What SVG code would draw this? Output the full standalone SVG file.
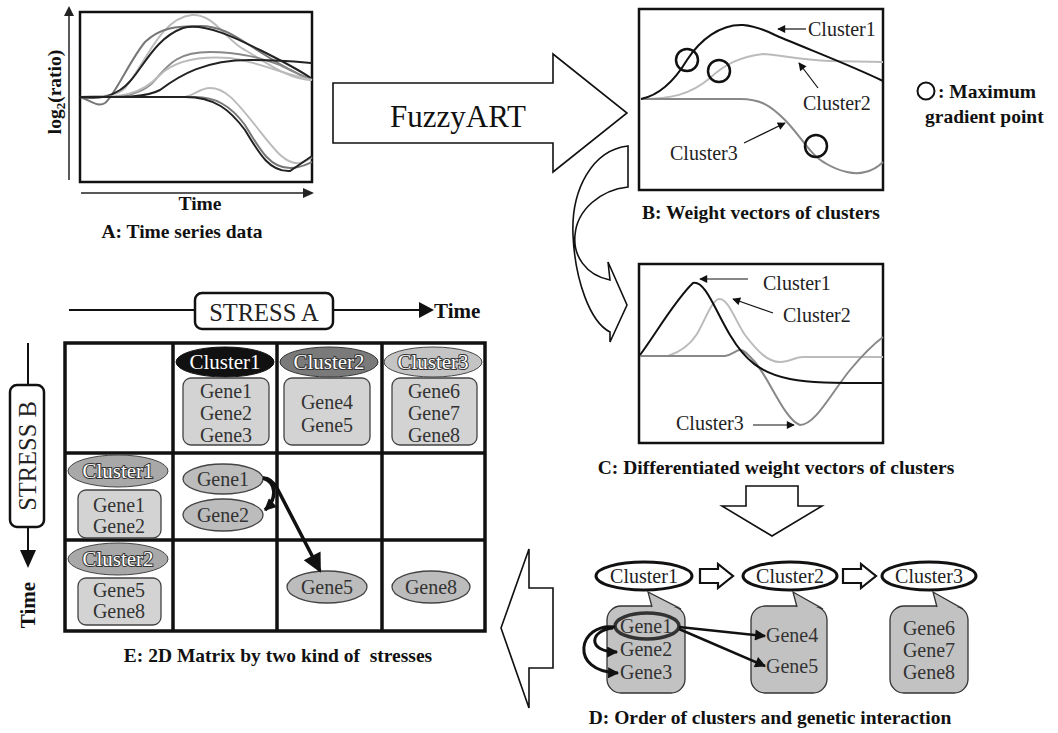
<svg xmlns="http://www.w3.org/2000/svg" width="1058" height="733" viewBox="0 0 1058 733" font-family="'Liberation Serif', 'DejaVu Serif', serif">
<style>
text, tspan{font-family:"Liberation Serif","DejaVu Serif","Times New Roman",serif;}
.b{font-weight:bold;font-size:19.5px;fill:#111;}
.t20{font-size:20px;fill:#222;}
.g{font-size:20px;fill:#333;}
.frame{fill:none;stroke:#111;stroke-width:2.5;}
.blk{fill:#fff;stroke:#111;stroke-width:1.6;}
.cv{fill:none;stroke-width:2;}
.ol{fill:#fff;stroke:#333;stroke-width:2;paint-order:stroke;font-size:21px;}
.gbox{fill:#d3d3d3;stroke:#444;stroke-width:1.3;}
.gell{fill:#bcbcbc;stroke:#444;stroke-width:1.3;}
.dbox{fill:#c2c2c2;stroke:#333;stroke-width:1.3;}
.grid{fill:none;stroke:#111;stroke-width:3.5;}
</style>
<defs>
<marker id="ah" viewBox="0 0 10 10" refX="9" refY="5" markerWidth="10" markerHeight="8" markerUnits="userSpaceOnUse" orient="auto"><path d="M0,0 L10,5 L0,10 z" fill="#111"/></marker>
<marker id="ahD" viewBox="0 0 10 10" refX="9" refY="5" markerWidth="12" markerHeight="11" markerUnits="userSpaceOnUse" orient="auto"><path d="M0,0 L10,5 L0,10 z" fill="#111"/></marker>
<marker id="ahS" viewBox="0 0 10 10" refX="9" refY="5" markerWidth="13" markerHeight="12" markerUnits="userSpaceOnUse" orient="auto"><path d="M0,0 L10,5 L0,10 z" fill="#111"/></marker>
<marker id="ahB" viewBox="0 0 10 10" refX="9" refY="5" markerWidth="21" markerHeight="19" markerUnits="userSpaceOnUse" orient="auto"><path d="M0,0 L10,5 L0,10 z" fill="#111"/></marker>
</defs>

<g id="panelA">
<rect x="80" y="12" width="232" height="170" class="frame"/>
<line x1="69" y1="180" x2="69" y2="14" stroke="#222" stroke-width="1.5"/>
<polygon points="64,16 69,6 74,16" fill="#222"/>
<line x1="81" y1="193" x2="305" y2="193" stroke="#222" stroke-width="1.5"/>
<polygon points="303,188 314,193 303,198" fill="#222"/>
<path class="cv" stroke="#bbb" d="M80,97 C100,95 115,98 125,88 C145,65 160,18 192,15 C215,14 225,40 245,50 C270,65 290,80 312,80"/>
<path class="cv" stroke="#777" d="M80,97 C90,100 98,108 105,103 C115,95 130,60 145,42 C160,28 175,26 200,26 C225,26 240,40 265,55 C285,68 300,75 312,80"/>
<path class="cv" stroke="#222" d="M80,97 C100,100 110,96 120,90 C140,78 150,40 183,28 C205,22 240,40 260,50 C280,60 300,70 312,79"/>
<path class="cv" stroke="#888" d="M80,97 C110,98 140,98 155,80 C170,62 180,52 210,52 C240,52 260,58 280,65 C295,72 305,78 312,80"/>
<path class="cv" stroke="#bbb" d="M80,97 C120,98 140,96 160,75 C175,60 200,56 230,58 C260,62 285,75 312,80"/>
<path class="cv" stroke="#222" d="M80,97 C120,97 145,98 160,90 C180,75 205,60 250,60 C280,60 300,62 312,63"/>
<path class="cv" stroke="#bbb" d="M80,97 L185,97 C195,95 200,88 210,88 C225,88 235,100 255,125 C275,150 285,165 300,163 C305,162 310,158 312,157"/>
<path class="cv" stroke="#777" d="M80,97 L195,97 C215,97 230,105 245,125 C260,150 270,168 290,168 C300,168 305,165 312,162"/>
<path class="cv" stroke="#222" d="M80,97 L185,97 C215,97 230,110 245,130 C260,155 270,172 290,171 L312,156"/>
<text class="b" transform="translate(61,92) rotate(-90)" text-anchor="middle">log<tspan font-size="13" dy="4">2</tspan><tspan dy="-4">(ratio)</tspan></text>
<text class="b" x="200" y="210" text-anchor="middle" font-size="18">Time</text>
<text class="b" x="182" y="238" text-anchor="middle">A: Time series data</text>
</g>

<g id="fuzzyArrow">
<polygon class="blk" points="333,83 553,83 553,54 627,113 553,172 553,143 333,143"/>
<text x="458" y="127" text-anchor="middle" font-size="31" fill="#111">FuzzyART</text>
</g>

<g id="panelB">
<rect x="639" y="9" width="244" height="181" class="frame"/>
<path class="cv" stroke="#bbb" d="M641,99 C670,99 690,95 710,78 C725,64 740,57 763,54 C780,55 800,60 830,61 L883,62"/>
<path class="cv" stroke="#888" d="M641,99 L740,99 C760,99 770,105 785,120 C800,135 810,155 825,163 C840,172 855,175 865,172 C875,170 880,165 883,162"/>
<path class="cv" stroke="#111" stroke-width="2.5" d="M641,99 C660,95 675,80 687,60 C700,40 720,24 743,25 C755,26 765,30 775,35 C810,50 850,65 883,81"/>
<circle cx="687" cy="60" r="11" fill="none" stroke="#111" stroke-width="2.5"/>
<circle cx="719" cy="71" r="11" fill="none" stroke="#111" stroke-width="2.5"/>
<circle cx="816" cy="146" r="11" fill="none" stroke="#111" stroke-width="2.5"/>
<line x1="806" y1="29" x2="778" y2="29" stroke="#111" stroke-width="1.2" marker-end="url(#ah)"/>
<line x1="818" y1="88" x2="799" y2="63" stroke="#111" stroke-width="1.2" marker-end="url(#ah)"/>
<line x1="744" y1="143" x2="785" y2="123" stroke="#111" stroke-width="1.2" marker-end="url(#ah)"/>
<text class="t20" x="808" y="36">Cluster1</text>
<text class="t20" x="803" y="110">Cluster2</text>
<text class="t20" x="670" y="160">Cluster3</text>
<text class="b" x="761" y="219" text-anchor="middle">B: Weight vectors of clusters</text>
</g>

<g id="legend">
<circle cx="926" cy="91" r="8.5" fill="none" stroke="#111" stroke-width="2"/>
<text class="b" x="938" y="98" font-size="21">: Maximum</text>
<text class="b" x="925" y="123" font-size="21">gradient point</text>
</g>

<g id="curvedArrow">
<path class="blk" d="M628,146 C592,150 571,190 573,235 C575,280 590,322 610,332 L610,342 L627,305 L608,262 L610,280 C585,275 573,255 575,235 C577,210 600,190 628,187 Z"/>
</g>

<g id="panelC">
<rect x="639" y="264" width="244" height="179" class="frame"/>
<path class="cv" stroke="#bbb" d="M640,356 L668,356 C680,352 690,345 697,334 C705,320 712,300 719,299 C728,298 735,320 745,335 C758,352 768,362 780,362 C790,362 795,357 803,357 L883,357"/>
<path class="cv" stroke="#888" d="M640,356 L725,356 C732,355 736,350 740,350 C745,350 748,355 755,362 C770,380 785,420 800,425 C815,425 830,395 850,370 C865,352 875,343 883,337"/>
<path class="cv" stroke="#111" stroke-width="2.5" d="M640,355 C655,335 675,300 693,283 C705,280 715,310 730,335 C745,360 760,373 790,379 C810,383 830,383 883,383"/>
<line x1="748" y1="279" x2="700" y2="279" stroke="#111" stroke-width="1.2" marker-end="url(#ah)"/>
<line x1="773" y1="313" x2="733" y2="299" stroke="#111" stroke-width="1.2" marker-end="url(#ah)"/>
<line x1="753" y1="425" x2="794" y2="425" stroke="#111" stroke-width="1.2" marker-end="url(#ah)"/>
<text class="t20" x="763" y="290">Cluster1</text>
<text class="t20" x="783" y="322">Cluster2</text>
<text class="t20" x="676" y="430">Cluster3</text>
<text class="b" x="776" y="474" text-anchor="middle">C: Differentiated weight vectors of clusters</text>
</g>

<g id="downArrow">
<polygon class="blk" points="746,486 798,486 798,506 822,506 772,536 722,506 746,506"/>
</g>

<g id="panelD">
<g id="d-c1"><ellipse cx="644" cy="576" rx="48" ry="14" fill="#fff" stroke="#111" stroke-width="3"/><text class="t20" x="644" y="583" text-anchor="middle">Cluster1</text></g>
<g id="d-c2"><ellipse cx="790" cy="576" rx="47" ry="14" fill="#fff" stroke="#111" stroke-width="3"/><text class="t20" x="790" y="583" text-anchor="middle">Cluster2</text></g>
<g id="d-c3"><ellipse cx="929" cy="576" rx="47" ry="14" fill="#fff" stroke="#111" stroke-width="3"/><text class="t20" x="929" y="583" text-anchor="middle">Cluster3</text></g>
<polygon points="700,569 718,569 718,564 733,576 718,588 718,583 700,583" fill="#fff" stroke="#111" stroke-width="2.2"/>
<polygon points="843,569 861,569 861,564 876,576 861,588 861,583 843,583" fill="#fff" stroke="#111" stroke-width="2.2"/>
<g id="d-box1">
<rect class="dbox" x="607" y="606" width="78" height="87" rx="14"/>
<polygon points="652,607 648,592 680,607" fill="#c2c2c2"/>
<polyline points="652,607 648,592 681,609" fill="none" stroke="#333" stroke-width="1.3"/>
<text class="g" x="620" y="633">Gene1</text>
<text class="g" x="620" y="656">Gene2</text>
<text class="g" x="620" y="679">Gene3</text>
<ellipse cx="647" cy="626" rx="32" ry="13" fill="none" stroke="#333" stroke-width="3.5"/>
</g>
<g id="d-box2">
<rect class="dbox" x="751" y="606" width="76" height="87" rx="14"/>
<polygon points="797,607 793,592 822,607" fill="#c2c2c2"/>
<polyline points="797,607 793,592 823,609" fill="none" stroke="#333" stroke-width="1.3"/>
<text class="g" x="766" y="642">Gene4</text>
<text class="g" x="766" y="673">Gene5</text>
</g>
<g id="d-box3">
<rect class="dbox" x="890" y="606" width="78" height="87" rx="14"/>
<polygon points="937,607 933,592 962,607" fill="#c2c2c2"/>
<polyline points="937,607 933,592 963,609" fill="none" stroke="#333" stroke-width="1.3"/>
<text class="g" x="929" y="635" text-anchor="middle">Gene6</text>
<text class="g" x="929" y="657" text-anchor="middle">Gene7</text>
<text class="g" x="929" y="679" text-anchor="middle">Gene8</text>
</g>
<text class="b" x="770" y="724" text-anchor="middle">D: Order of clusters and genetic interaction</text>
</g>

<g id="leftArrow">
<polygon class="blk" points="501,628 529,549 529,588 553,588 553,668 529,668 529,708"/>
</g>

<g id="panelE">
<line x1="69" y1="310" x2="195" y2="310" stroke="#111" stroke-width="2"/>
<line x1="333" y1="310" x2="420" y2="310" stroke="#111" stroke-width="2"/>
<polygon points="419,302 434,310 419,318" fill="#111"/>
<g id="stressA"><rect x="195" y="293" width="138" height="36" rx="7" fill="#fff" stroke="#111" stroke-width="2.5"/><text x="264" y="321" text-anchor="middle" font-size="24.5" fill="#222">STRESS A</text></g>
<text x="434" y="318" font-weight="bold" font-size="21" fill="#111">Time</text>
<line x1="28" y1="343" x2="28" y2="385" stroke="#111" stroke-width="2"/>
<line x1="28" y1="527" x2="28" y2="552" stroke="#111" stroke-width="2"/>
<polygon points="20,550 36,550 28,568" fill="#111"/>
<g id="stressB"><rect x="10" y="385" width="34" height="142" rx="7" fill="#fff" stroke="#111" stroke-width="2.5"/><text transform="translate(36,456) rotate(-90)" text-anchor="middle" font-size="24.5" fill="#222">STRESS B</text></g>
<text transform="translate(35,605) rotate(-90)" text-anchor="middle" font-weight="bold" font-size="21" fill="#111">Time</text>

<rect class="grid" x="65" y="343" width="420" height="288"/>
<line class="grid" x1="173" y1="343" x2="173" y2="631"/>
<line class="grid" x1="277" y1="343" x2="277" y2="631"/>
<line class="grid" x1="382" y1="343" x2="382" y2="631"/>
<line class="grid" x1="65" y1="453" x2="485" y2="453"/>
<line class="grid" x1="65" y1="540" x2="485" y2="540"/>

<g id="e-h1"><ellipse cx="225" cy="362" rx="49" ry="15" fill="#111" stroke="#111"/><text x="225" y="369" text-anchor="middle" font-size="21" fill="#fff">Cluster1</text>
<rect class="gbox" x="183" y="378" width="86" height="67" rx="8"/>
<text class="g" x="226" y="398" text-anchor="middle">Gene1</text><text class="g" x="226" y="420" text-anchor="middle">Gene2</text><text class="g" x="226" y="442" text-anchor="middle">Gene3</text></g>
<g id="e-h2"><ellipse cx="329" cy="362" rx="49" ry="15" fill="#7a7a7a" stroke="#333"/><text class="ol" x="329" y="369" text-anchor="middle">Cluster2</text>
<rect class="gbox" x="284" y="378" width="86" height="67" rx="8"/>
<text class="g" x="327" y="409" text-anchor="middle">Gene4</text><text class="g" x="327" y="432" text-anchor="middle">Gene5</text></g>
<g id="e-h3"><ellipse cx="433" cy="362" rx="49" ry="15" fill="#c4c4c4" stroke="#444"/><text class="ol" x="433" y="369" text-anchor="middle" stroke="#666">Cluster3</text>
<rect class="gbox" x="392" y="378" width="85" height="67" rx="8"/>
<text class="g" x="434" y="398" text-anchor="middle">Gene6</text><text class="g" x="434" y="420" text-anchor="middle">Gene7</text><text class="g" x="434" y="442" text-anchor="middle">Gene8</text></g>
<g id="e-r1"><ellipse cx="118" cy="471" rx="50" ry="16" fill="#a8a8a8" stroke="#444"/><text class="ol" x="118" y="478" text-anchor="middle" stroke="#555">Cluster1</text>
<rect class="gbox" x="78" y="490" width="83" height="48" rx="8"/>
<text class="g" x="119" y="512" text-anchor="middle">Gene1</text><text class="g" x="119" y="533" text-anchor="middle">Gene2</text></g>
<g id="e-r2"><ellipse cx="118" cy="559" rx="50" ry="16" fill="#a8a8a8" stroke="#444"/><text class="ol" x="118" y="566" text-anchor="middle" stroke="#555">Cluster2</text>
<rect class="gbox" x="78" y="578" width="83" height="47" rx="8"/>
<text class="g" x="119" y="597" text-anchor="middle">Gene5</text><text class="g" x="119" y="618" text-anchor="middle">Gene8</text></g>
<g id="e-g1"><ellipse class="gell" cx="223" cy="479" rx="40" ry="15"/><text class="g" x="223" y="486" text-anchor="middle">Gene1</text></g>
<g id="e-g2"><ellipse class="gell" cx="223" cy="515" rx="40" ry="16"/><text class="g" x="223" y="522" text-anchor="middle">Gene2</text></g>
<g id="e-g5"><ellipse class="gell" cx="327" cy="587" rx="40" ry="16"/><text class="g" x="327" y="594" text-anchor="middle">Gene5</text></g>
<g id="e-g8"><ellipse class="gell" cx="431" cy="587" rx="39" ry="16"/><text class="g" x="431" y="594" text-anchor="middle">Gene8</text></g>
<text class="b" x="278" y="662" text-anchor="middle" font-size="20" xml:space="preserve">E: 2D Matrix by two kind of  stresses</text>
</g>

<g id="connectors" fill="none" stroke="#111">
<path d="M263,478 C276,482 278,498 265,510" stroke-width="3.5" marker-end="url(#ahS)"/>
<path d="M263,478 C270,478 274,482 278,490 L320,571" stroke-width="3.5" marker-end="url(#ahB)"/>
<line x1="679" y1="627" x2="765" y2="636" stroke-width="2.5" marker-end="url(#ahD)"/>
<line x1="679" y1="629" x2="765" y2="666" stroke-width="2.5" marker-end="url(#ahD)"/>
<path d="M615,627 C578,622 568,672 618,673" stroke-width="3" marker-end="url(#ahD)"/>
<path d="M613,628 C590,630 586,652 617,652" stroke-width="3" marker-end="url(#ahD)"/>
</g>
</svg>
